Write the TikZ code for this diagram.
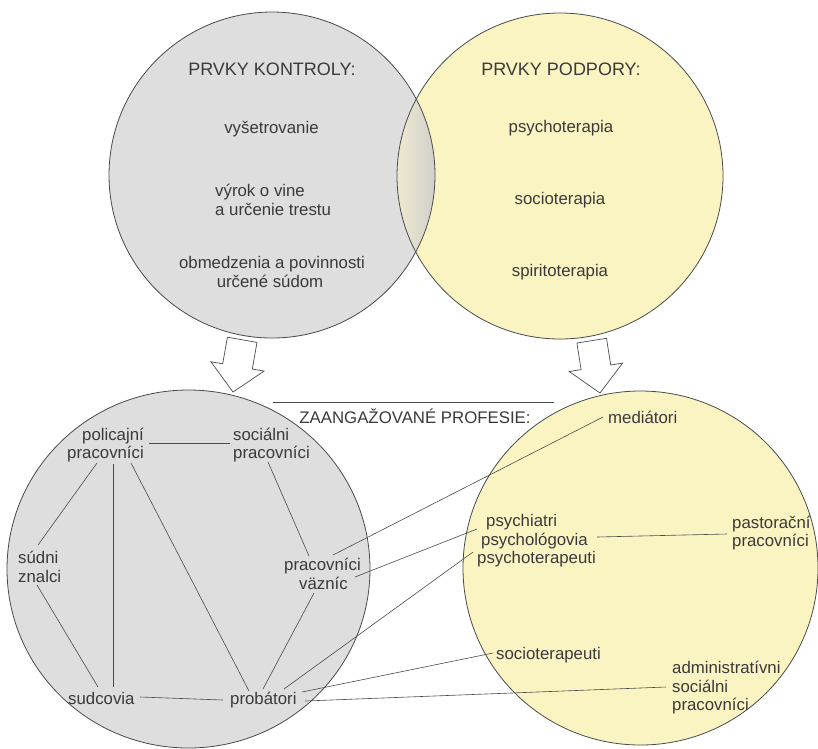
\documentclass[tikz,border=0pt]{standalone}
\usepackage{fontspec}
\setmainfont{Liberation Sans}
\usetikzlibrary{calc}
\definecolor{cgrey}{HTML}{DEDEDE}
\definecolor{cyel}{HTML}{FAF4C3}
\definecolor{cline}{HTML}{4A4A4A}
\definecolor{ctext}{HTML}{3A3A3A}
\definecolor{lensL}{HTML}{EEE9CF}
\definecolor{lensR}{HTML}{D0D0CC}
\begin{document}
\begin{tikzpicture}[x=1pt,y=-1pt,
  lbl/.style={inner sep=0pt, text=ctext, font=\fontsize{16.8}{19}\selectfont},
  ttl/.style={inner sep=0pt, text=ctext, font=\fontsize{18}{21}\selectfont},
  conn/.style={draw=cline, line width=0.6pt},
  rim/.style={draw=cline, line width=0.8pt},
  blockarrow/.style={draw=cline, line width=0.7pt, fill=white, line join=miter}]
\fill[white] (0,0) rectangle (818,748);
\useasboundingbox (0,0) rectangle (818,748);
% top circles
\fill[cgrey] (272,175) circle[radius=163pt];
\fill[cyel] (560,176) circle[radius=163pt];
\begin{scope}
  \clip (272,175) circle[radius=163pt];
  \clip (560,176) circle[radius=163pt];
  \shade[left color=lensL, right color=lensR] (397,90) rectangle (436,262);
\end{scope}
\draw[rim] (272,175) circle[radius=163pt];
\draw[rim] (560,176) circle[radius=163pt];
% bottom circles
\draw[rim, fill=cgrey] (188.5,569) ellipse[x radius=181.5pt, y radius=179pt];
\draw[rim, fill=cyel] (640.5,568) ellipse[x radius=177.5pt, y radius=177pt];
% block arrows
\draw[blockarrow] (227.4,337.2) -- (222.7,363.8) -- (210.9,361.7) -- (233,392) -- (264.1,371.1) -- (252.3,369.0) -- (257.0,342.4) -- cycle;
\draw[blockarrow] (576.9,343.0) -- (581.1,369.6) -- (569.2,371.5) -- (600,393) -- (622.6,363.1) -- (610.7,365.0) -- (606.5,338.3) -- cycle;
% top texts
\node[ttl, anchor=base] (tk) at (272,75) {PRVKY KONTROLY:};
\node[ttl, anchor=base] (tp) at (561,75) {PRVKY PODPORY:};
\node[lbl, anchor=base] (v1) at (271.5,133) {vyšetrovanie};
\node[lbl, anchor=base west] (v2a) at (215,196) {výrok o vine};
\node[lbl, anchor=base west] (v2b) at (215,215) {a určenie trestu};
\node[lbl, anchor=base] (v3a) at (272,268) {obmedzenia a povinnosti};
\node[lbl, anchor=base] (v3b) at (270,287) {určené súdom};
\node[lbl, anchor=base] (p1) at (561,132) {psychoterapia};
\node[lbl, anchor=base] (p2) at (560,204) {socioterapia};
\node[lbl, anchor=base] (p3) at (560,276) {spiritoterapia};
% heading of professions
\draw[conn] (273,402) -- (554,402);
\node[lbl, anchor=base] (zp) at (415,423) {ZAANGAŽOVANÉ PROFESIE:};
% bottom-left labels
\node[lbl, anchor=base east] (polA) at (144,440) {policajní};
\node[lbl, anchor=base east] (polB) at (144,458) {pracovníci};
\node[lbl, anchor=base west] (socA) at (233,440) {sociálni};
\node[lbl, anchor=base west] (socB) at (233,458) {pracovníci};
\node[lbl, anchor=base west] (sudA) at (18,563) {súdni};
\node[lbl, anchor=base west] (sudB) at (18,582) {znalci};
\node[lbl, anchor=base west] (sudc) at (68,704) {sudcovia};
\node[lbl, anchor=base west] (prob) at (230,704) {probátori};
\node[lbl, anchor=base] (vazA) at (322.5,570) {pracovníci};
\node[lbl, anchor=base] (vazB) at (323.5,589) {väzníc};
% bottom-right labels
\node[lbl, anchor=base west] (med) at (608,423) {mediátori};
\node[lbl, anchor=base west] (psA) at (486,526) {psychiatri};
\node[lbl, anchor=base west] (psB) at (481,545) {psychológovia};
\node[lbl, anchor=base west] (psC) at (477,563) {psychoterapeuti};
\node[lbl, anchor=base west] (pasA) at (732,528) {pastorační};
\node[lbl, anchor=base west] (pasB) at (732,546) {pracovníci};
\node[lbl, anchor=base west] (soct) at (496,659) {socioterapeuti};
\node[lbl, anchor=base west] (admA) at (672,673) {administratívni};
\node[lbl, anchor=base west] (admB) at (672,692) {sociálni};
\node[lbl, anchor=base west] (admC) at (672,710) {pracovníci};
% connectors
\draw[conn] ($(polA.base east)+(5,3)$) -- ($(socA.base west)+(-3,3)$);
\draw[conn] ($(polB.base east)+(-47,5)$) -- ($(sudA.base west)+(20,-18)$);
\draw[conn] ($(polB.base east)+(-31,6)$) -- ($(sudc.base west)+(45,-17)$);
\draw[conn] ($(polB.base east)+(-13,5)$) -- ($(prob.base west)+(19,-13)$);
\draw[conn] ($(socB.base west)+(35,4)$) -- ($(vazA.base)+(-13.5,-14)$);
\draw[conn] ($(sudB.base west)+(19,3)$) -- ($(sudc.base west)+(30,-17)$);
\draw[conn] ($(sudc.base west)+(72,-7)$) -- ($(prob.base west)+(-7,-4)$);
\draw[conn] ($(vazB.base)+(-9.5,4)$) -- ($(prob.base west)+(33,-15)$);
\draw[conn] ($(vazA.base)+(10.5,-15)$) -- ($(med.base west)+(-5,-6)$);
\draw[conn] ($(vazA.base)+(32.5,7)$) -- ($(psA.base west)+(-9,3)$);
\draw[conn] ($(psC.base west)+(-4,-11)$) -- ($(prob.base west)+(54,-15)$);
\draw[conn] ($(soct.base west)+(-3,-6)$) -- ($(prob.base west)+(72,-12)$);
\draw[conn] ($(prob.base west)+(75,-3)$) -- ($(admB.base west)+(-6,-5)$);
\draw[conn] ($(psB.base west)+(116,-8)$) -- ($(pasA.base west)+(-5,6)$);
\end{tikzpicture}
\end{document}
